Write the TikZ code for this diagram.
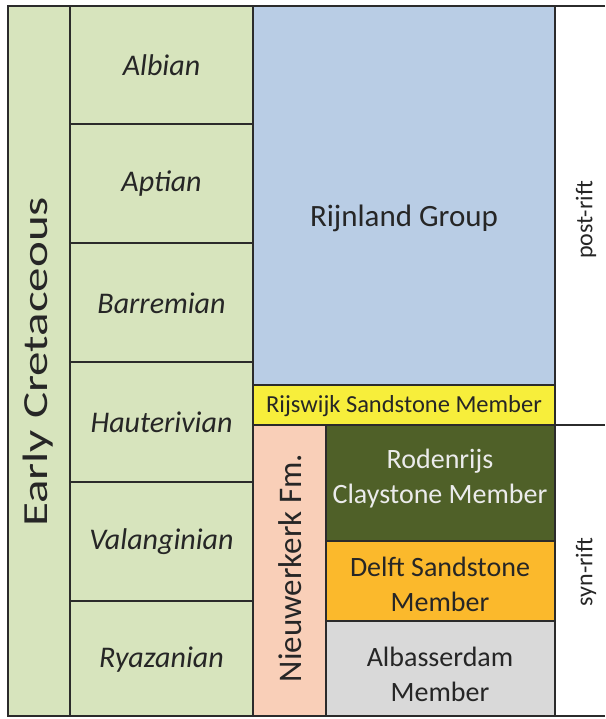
\documentclass[tikz,border=0pt]{standalone}
\usepackage{fontspec}
\setmainfont{Carlito}
\usepackage{tikz}
\definecolor{stagegreen}{HTML}{D7E4BD}
\definecolor{rijnblue}{HTML}{B9CDE5}
\definecolor{rijsyellow}{HTML}{F7EE3B}
\definecolor{nieupeach}{HTML}{F9CFB8}
\definecolor{claygreen}{HTML}{4F6028}
\definecolor{delftorange}{HTML}{FBB92C}
\definecolor{albgrey}{HTML}{D9D9D9}
\definecolor{edge}{HTML}{2B2B2B}
\definecolor{ink}{HTML}{262626}

\begin{document}
\begin{tikzpicture}[x=1pt,y=-1pt,
  box/.style={draw=edge, line width=1.6pt},
  stagelabel/.style={text=ink, font=\fontsize{30}{30}\selectfont\itshape},
  unitlabel/.style={text=ink, align=center, font=\fontsize{28}{35}\selectfont},
  riftlabel/.style={text=ink, rotate=90, font=\fontsize{24}{24}\selectfont}]
\useasboundingbox (0,0) rectangle (605,719);
%
\draw[box, fill=stagegreen] (8,6) rectangle (70,716);
\draw[box, fill=stagegreen] (70,6) rectangle (253,124);
\draw[box, fill=stagegreen] (70,124) rectangle (253,243);
\draw[box, fill=stagegreen] (70,243) rectangle (253,362);
\draw[box, fill=stagegreen] (70,362) rectangle (253,482);
\draw[box, fill=stagegreen] (70,482) rectangle (253,601);
\draw[box, fill=stagegreen] (70,601) rectangle (253,716);
%
\draw[box, fill=rijnblue] (253,6) rectangle (555,385);
\draw[box, fill=rijsyellow] (253,385) rectangle (555,425);
\draw[box, fill=nieupeach] (253,425) rectangle (326,716);
\draw[box, fill=claygreen] (326,425) rectangle (555,541);
\draw[box, fill=delftorange] (326,541) rectangle (555,621);
\draw[box, fill=albgrey] (326,621) rectangle (555,716);
%
\draw[box] (555,6) -- (605,6);
\draw[box] (555,425) -- (605,425);
\draw[box] (555,716) -- (605,716);
%
\node[text=ink, rotate=90] (era) at (38,362)
  {\scalebox{1}[0.72]{\fontsize{49}{49}\selectfont Early Cretaceous}};
\node[stagelabel] (albian) at (161.5,65) {Albian};
\node[stagelabel] (aptian) at (161.5,184) {Aptian};
\node[stagelabel] (barremian) at (161.5,303) {Barremian};
\node[stagelabel] (hauterivian) at (161.5,422) {Hauterivian};
\node[stagelabel] (valanginian) at (161.5,542) {Valanginian};
\node[stagelabel] (ryazanian) at (161.5,660) {Ryazanian};
%
\node[unitlabel, font=\fontsize{31}{31}\selectfont] (rijnland) at (404,218) {Rijnland Group};
\node[unitlabel, font=\fontsize{24.5}{24.5}\selectfont] (rijswijk) at (404,406) {Rijswijk Sandstone Member};
\node[unitlabel, rotate=90, font=\fontsize{33}{33}\selectfont] (nieuwerkerk) at (290,568) {Nieuwerkerk Fm.};
\node[unitlabel, text=white!92!black] (rodenrijs) at (440,479) {Rodenrijs\\Claystone Member};
\node[unitlabel] (delft) at (440,584) {Delft Sandstone\\Member};
\node[unitlabel] (albasserdam) at (440,674) {Albasserdam\\Member};
%
\node[riftlabel] (postrift) at (586,220) {post-rift};
\node[riftlabel] (synrift) at (586,572) {syn-rift};
\end{tikzpicture}
\end{document}
